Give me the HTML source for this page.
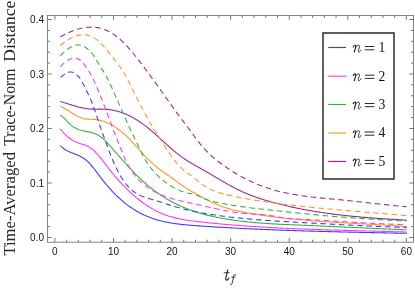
<!DOCTYPE html>
<html><head><meta charset="utf-8"><style>
html,body{margin:0;padding:0;background:#fff;}
svg{display:block;}
text{font-family:"Liberation Sans",sans-serif;}
</style></head><body>
<svg width="415" height="288" viewBox="0 0 415 288">
<rect width="415" height="288" fill="#fff"/>
<g opacity="0.999">
<g fill="none" stroke-width="1.08" stroke-linejoin="round">
<path d="M60.3 145.54 L61.3 146.55 L62.3 147.46 L63.3 148.28 L64.3 149.03 L65.3 149.70 L66.3 150.31 L67.3 150.86 L68.3 151.36 L69.3 151.82 L70.3 152.25 L71.3 152.66 L72.3 153.04 L73.3 153.42 L74.3 153.80 L75.3 154.18 L76.3 154.57 L77.3 154.98 L78.3 155.42 L79.3 155.88 L80.3 156.37 L81.3 156.91 L82.3 157.48 L83.3 158.11 L84.3 158.79 L85.3 159.53 L86.3 160.33 L87.3 161.20 L88.3 162.14 L89.3 163.15 L90.3 164.23 L91.3 165.36 L92.3 166.54 L93.3 167.76 L94.3 169.02 L95.3 170.32 L96.3 171.64 L97.3 172.98 L98.3 174.33 L99.3 175.67 L100.3 177.00 L101.3 178.30 L102.3 179.59 L103.3 180.85 L104.3 182.09 L105.3 183.31 L106.3 184.51 L107.3 185.69 L108.3 186.85 L109.3 187.98 L110.3 189.09 L111.3 190.19 L112.3 191.26 L113.3 192.31 L114.3 193.34 L115.3 194.35 L116.3 195.34 L117.3 196.31 L118.3 197.26 L119.3 198.19 L120.3 199.10 L121.3 199.98 L122.3 200.85 L123.3 201.70 L124.3 202.52 L125.3 203.33 L126.3 204.11 L127.3 204.88 L128.3 205.63 L129.3 206.35 L130.3 207.06 L131.3 207.75 L132.3 208.42 L133.3 209.08 L134.3 209.71 L135.3 210.33 L136.3 210.93 L137.3 211.51 L138.3 212.07 L139.3 212.62 L140.3 213.15 L141.3 213.67 L142.3 214.17 L143.3 214.65 L144.3 215.12 L145.3 215.58 L146.3 216.01 L147.3 216.44 L148.3 216.85 L149.3 217.24 L150.3 217.62 L151.3 217.99 L152.3 218.35 L153.3 218.69 L154.3 219.02 L155.3 219.34 L156.3 219.64 L157.3 219.94 L158.3 220.22 L159.3 220.49 L160.3 220.76 L161.3 221.01 L162.3 221.25 L163.3 221.48 L164.3 221.70 L165.3 221.92 L166.3 222.12 L167.3 222.32 L168.3 222.51 L169.3 222.69 L170.3 222.86 L171.3 223.03 L172.3 223.19 L173.3 223.34 L174.3 223.49 L175.3 223.63 L176.3 223.77 L177.3 223.90 L178.3 224.02 L179.3 224.15 L180.3 224.26 L181.3 224.37 L182.3 224.48 L183.3 224.59 L184.3 224.69 L185.3 224.79 L186.3 224.88 L187.3 224.97 L188.3 225.06 L189.3 225.15 L190.3 225.23 L191.3 225.31 L192.3 225.39 L193.3 225.47 L194.3 225.55 L195.3 225.62 L196.3 225.69 L197.3 225.77 L198.3 225.84 L199.3 225.91 L200.3 225.98 L201.3 226.05 L202.3 226.12 L203.3 226.18 L204.3 226.25 L205.3 226.32 L206.3 226.39 L207.3 226.45 L208.3 226.52 L209.3 226.58 L210.3 226.65 L211.3 226.71 L212.3 226.78 L213.3 226.84 L214.3 226.90 L215.3 226.97 L216.3 227.03 L217.3 227.09 L218.3 227.15 L219.3 227.21 L220.3 227.27 L221.3 227.33 L222.3 227.39 L223.3 227.45 L224.3 227.51 L225.3 227.56 L226.3 227.62 L227.3 227.68 L228.3 227.73 L229.3 227.79 L230.3 227.84 L231.3 227.90 L232.3 227.95 L233.3 228.01 L234.3 228.06 L235.3 228.12 L236.3 228.17 L237.3 228.22 L238.3 228.27 L239.3 228.32 L240.3 228.38 L241.3 228.43 L242.3 228.48 L243.3 228.53 L244.3 228.58 L245.3 228.63 L246.3 228.67 L247.3 228.72 L248.3 228.77 L249.3 228.82 L250.3 228.87 L251.3 228.91 L252.3 228.96 L253.3 229.01 L254.3 229.05 L255.3 229.10 L256.3 229.14 L257.3 229.19 L258.3 229.23 L259.3 229.27 L260.3 229.32 L261.3 229.36 L262.3 229.40 L263.3 229.45 L264.3 229.49 L265.3 229.53 L266.3 229.57 L267.3 229.61 L268.3 229.65 L269.3 229.69 L270.3 229.73 L271.3 229.77 L272.3 229.81 L273.3 229.85 L274.3 229.89 L275.3 229.93 L276.3 229.97 L277.3 230.01 L278.3 230.04 L279.3 230.08 L280.3 230.12 L281.3 230.16 L282.3 230.19 L283.3 230.23 L284.3 230.26 L285.3 230.30 L286.3 230.34 L287.3 230.37 L288.3 230.40 L289.3 230.44 L290.3 230.47 L291.3 230.51 L292.3 230.54 L293.3 230.57 L294.3 230.61 L295.3 230.64 L296.3 230.67 L297.3 230.71 L298.3 230.74 L299.3 230.77 L300.3 230.80 L301.3 230.83 L302.3 230.86 L303.3 230.89 L304.3 230.93 L305.3 230.96 L306.3 230.99 L307.3 231.02 L308.3 231.05 L309.3 231.08 L310.3 231.10 L311.3 231.13 L312.3 231.16 L313.3 231.19 L314.3 231.22 L315.3 231.25 L316.3 231.28 L317.3 231.30 L318.3 231.33 L319.3 231.36 L320.3 231.39 L321.3 231.41 L322.3 231.44 L323.3 231.47 L324.3 231.49 L325.3 231.52 L326.3 231.55 L327.3 231.57 L328.3 231.60 L329.3 231.63 L330.3 231.65 L331.3 231.68 L332.3 231.70 L333.3 231.73 L334.3 231.75 L335.3 231.78 L336.3 231.80 L337.3 231.83 L338.3 231.85 L339.3 231.87 L340.3 231.90 L341.3 231.92 L342.3 231.95 L343.3 231.97 L344.3 231.99 L345.3 232.02 L346.3 232.04 L347.3 232.06 L348.3 232.09 L349.3 232.11 L350.3 232.13 L351.3 232.16 L352.3 232.18 L353.3 232.20 L354.3 232.23 L355.3 232.25 L356.3 232.27 L357.3 232.29 L358.3 232.32 L359.3 232.34 L360.3 232.36 L361.3 232.38 L362.3 232.40 L363.3 232.43 L364.3 232.45 L365.3 232.47 L366.3 232.49 L367.3 232.51 L368.3 232.53 L369.3 232.56 L370.3 232.58 L371.3 232.60 L372.3 232.62 L373.3 232.64 L374.3 232.66 L375.3 232.68 L376.3 232.71 L377.3 232.73 L378.3 232.75 L379.3 232.77 L380.3 232.79 L381.3 232.81 L382.3 232.83 L383.3 232.85 L384.3 232.88 L385.3 232.90 L386.3 232.92 L387.3 232.94 L388.3 232.96 L389.3 232.98 L390.3 233.00 L391.3 233.02 L392.3 233.05 L393.3 233.07 L394.3 233.09 L395.3 233.11 L396.3 233.13 L397.3 233.15 L398.3 233.17 L399.3 233.19 L400.3 233.22 L401.3 233.24 L402.3 233.26 L403.3 233.28 L404.3 233.30 L405.3 233.32 L406.3 233.35 L406.7 233.35" stroke="#3a3aff"/>
<path d="M60.3 128.88 L61.3 130.13 L62.3 131.32 L63.3 132.45 L64.3 133.52 L65.3 134.54 L66.3 135.49 L67.3 136.39 L68.3 137.24 L69.3 138.03 L70.3 138.78 L71.3 139.47 L72.3 140.11 L73.3 140.70 L74.3 141.25 L75.3 141.75 L76.3 142.20 L77.3 142.61 L78.3 142.99 L79.3 143.33 L80.3 143.65 L81.3 143.96 L82.3 144.27 L83.3 144.58 L84.3 144.91 L85.3 145.26 L86.3 145.65 L87.3 146.08 L88.3 146.57 L89.3 147.11 L90.3 147.73 L91.3 148.42 L92.3 149.20 L93.3 150.05 L94.3 150.98 L95.3 151.96 L96.3 153.01 L97.3 154.11 L98.3 155.26 L99.3 156.45 L100.3 157.67 L101.3 158.93 L102.3 160.20 L103.3 161.50 L104.3 162.81 L105.3 164.12 L106.3 165.43 L107.3 166.74 L108.3 168.04 L109.3 169.32 L110.3 170.58 L111.3 171.82 L112.3 173.05 L113.3 174.26 L114.3 175.46 L115.3 176.63 L116.3 177.79 L117.3 178.94 L118.3 180.06 L119.3 181.17 L120.3 182.27 L121.3 183.34 L122.3 184.40 L123.3 185.45 L124.3 186.48 L125.3 187.49 L126.3 188.49 L127.3 189.47 L128.3 190.43 L129.3 191.38 L130.3 192.31 L131.3 193.23 L132.3 194.13 L133.3 195.02 L134.3 195.89 L135.3 196.74 L136.3 197.58 L137.3 198.41 L138.3 199.21 L139.3 200.00 L140.3 200.78 L141.3 201.54 L142.3 202.28 L143.3 203.01 L144.3 203.72 L145.3 204.41 L146.3 205.09 L147.3 205.75 L148.3 206.40 L149.3 207.03 L150.3 207.64 L151.3 208.23 L152.3 208.81 L153.3 209.38 L154.3 209.92 L155.3 210.45 L156.3 210.97 L157.3 211.46 L158.3 211.94 L159.3 212.40 L160.3 212.85 L161.3 213.28 L162.3 213.70 L163.3 214.10 L164.3 214.49 L165.3 214.86 L166.3 215.22 L167.3 215.56 L168.3 215.90 L169.3 216.21 L170.3 216.52 L171.3 216.82 L172.3 217.10 L173.3 217.37 L174.3 217.63 L175.3 217.89 L176.3 218.13 L177.3 218.36 L178.3 218.58 L179.3 218.79 L180.3 219.00 L181.3 219.19 L182.3 219.38 L183.3 219.56 L184.3 219.74 L185.3 219.91 L186.3 220.07 L187.3 220.22 L188.3 220.37 L189.3 220.52 L190.3 220.66 L191.3 220.79 L192.3 220.92 L193.3 221.05 L194.3 221.18 L195.3 221.30 L196.3 221.42 L197.3 221.53 L198.3 221.65 L199.3 221.76 L200.3 221.88 L201.3 221.99 L202.3 222.10 L203.3 222.21 L204.3 222.32 L205.3 222.42 L206.3 222.53 L207.3 222.64 L208.3 222.74 L209.3 222.84 L210.3 222.95 L211.3 223.05 L212.3 223.15 L213.3 223.25 L214.3 223.35 L215.3 223.44 L216.3 223.54 L217.3 223.64 L218.3 223.73 L219.3 223.83 L220.3 223.92 L221.3 224.01 L222.3 224.10 L223.3 224.19 L224.3 224.28 L225.3 224.37 L226.3 224.46 L227.3 224.54 L228.3 224.63 L229.3 224.72 L230.3 224.80 L231.3 224.88 L232.3 224.97 L233.3 225.05 L234.3 225.13 L235.3 225.21 L236.3 225.29 L237.3 225.37 L238.3 225.44 L239.3 225.52 L240.3 225.60 L241.3 225.67 L242.3 225.74 L243.3 225.82 L244.3 225.89 L245.3 225.96 L246.3 226.03 L247.3 226.10 L248.3 226.17 L249.3 226.24 L250.3 226.31 L251.3 226.38 L252.3 226.45 L253.3 226.51 L254.3 226.58 L255.3 226.64 L256.3 226.71 L257.3 226.77 L258.3 226.83 L259.3 226.89 L260.3 226.95 L261.3 227.01 L262.3 227.07 L263.3 227.13 L264.3 227.19 L265.3 227.25 L266.3 227.31 L267.3 227.36 L268.3 227.42 L269.3 227.48 L270.3 227.53 L271.3 227.59 L272.3 227.64 L273.3 227.69 L274.3 227.74 L275.3 227.80 L276.3 227.85 L277.3 227.90 L278.3 227.95 L279.3 228.00 L280.3 228.05 L281.3 228.10 L282.3 228.14 L283.3 228.19 L284.3 228.24 L285.3 228.28 L286.3 228.33 L287.3 228.38 L288.3 228.42 L289.3 228.47 L290.3 228.51 L291.3 228.55 L292.3 228.60 L293.3 228.64 L294.3 228.68 L295.3 228.72 L296.3 228.76 L297.3 228.80 L298.3 228.85 L299.3 228.88 L300.3 228.92 L301.3 228.96 L302.3 229.00 L303.3 229.04 L304.3 229.08 L305.3 229.12 L306.3 229.15 L307.3 229.19 L308.3 229.23 L309.3 229.26 L310.3 229.30 L311.3 229.33 L312.3 229.37 L313.3 229.40 L314.3 229.44 L315.3 229.47 L316.3 229.51 L317.3 229.54 L318.3 229.57 L319.3 229.60 L320.3 229.64 L321.3 229.67 L322.3 229.70 L323.3 229.73 L324.3 229.76 L325.3 229.79 L326.3 229.83 L327.3 229.86 L328.3 229.89 L329.3 229.92 L330.3 229.95 L331.3 229.98 L332.3 230.01 L333.3 230.04 L334.3 230.06 L335.3 230.09 L336.3 230.12 L337.3 230.15 L338.3 230.18 L339.3 230.21 L340.3 230.23 L341.3 230.26 L342.3 230.29 L343.3 230.32 L344.3 230.34 L345.3 230.37 L346.3 230.40 L347.3 230.43 L348.3 230.45 L349.3 230.48 L350.3 230.51 L351.3 230.53 L352.3 230.56 L353.3 230.59 L354.3 230.61 L355.3 230.64 L356.3 230.66 L357.3 230.69 L358.3 230.72 L359.3 230.74 L360.3 230.77 L361.3 230.79 L362.3 230.82 L363.3 230.85 L364.3 230.87 L365.3 230.90 L366.3 230.92 L367.3 230.95 L368.3 230.97 L369.3 231.00 L370.3 231.03 L371.3 231.05 L372.3 231.08 L373.3 231.10 L374.3 231.13 L375.3 231.16 L376.3 231.18 L377.3 231.21 L378.3 231.24 L379.3 231.26 L380.3 231.29 L381.3 231.31 L382.3 231.34 L383.3 231.37 L384.3 231.40 L385.3 231.42 L386.3 231.45 L387.3 231.48 L388.3 231.50 L389.3 231.53 L390.3 231.56 L391.3 231.59 L392.3 231.62 L393.3 231.64 L394.3 231.67 L395.3 231.70 L396.3 231.73 L397.3 231.76 L398.3 231.79 L399.3 231.82 L400.3 231.85 L401.3 231.88 L402.3 231.91 L403.3 231.94 L404.3 231.97 L405.3 232.00 L406.3 232.03 L406.7 232.04" stroke="#ff34ff"/>
<path d="M60.3 114.99 L61.3 115.72 L62.3 116.55 L63.3 117.46 L64.3 118.42 L65.3 119.43 L66.3 120.46 L67.3 121.50 L68.3 122.53 L69.3 123.53 L70.3 124.47 L71.3 125.36 L72.3 126.16 L73.3 126.87 L74.3 127.51 L75.3 128.07 L76.3 128.57 L77.3 129.01 L78.3 129.40 L79.3 129.75 L80.3 130.06 L81.3 130.33 L82.3 130.58 L83.3 130.81 L84.3 131.03 L85.3 131.24 L86.3 131.44 L87.3 131.65 L88.3 131.85 L89.3 132.07 L90.3 132.31 L91.3 132.56 L92.3 132.84 L93.3 133.15 L94.3 133.49 L95.3 133.87 L96.3 134.30 L97.3 134.77 L98.3 135.30 L99.3 135.89 L100.3 136.54 L101.3 137.27 L102.3 138.06 L103.3 138.92 L104.3 139.84 L105.3 140.81 L106.3 141.82 L107.3 142.88 L108.3 143.96 L109.3 145.07 L110.3 146.19 L111.3 147.33 L112.3 148.47 L113.3 149.61 L114.3 150.75 L115.3 151.89 L116.3 153.03 L117.3 154.17 L118.3 155.30 L119.3 156.44 L120.3 157.57 L121.3 158.69 L122.3 159.82 L123.3 160.94 L124.3 162.05 L125.3 163.16 L126.3 164.26 L127.3 165.36 L128.3 166.45 L129.3 167.53 L130.3 168.60 L131.3 169.67 L132.3 170.72 L133.3 171.77 L134.3 172.80 L135.3 173.82 L136.3 174.83 L137.3 175.83 L138.3 176.81 L139.3 177.78 L140.3 178.73 L141.3 179.67 L142.3 180.60 L143.3 181.51 L144.3 182.40 L145.3 183.28 L146.3 184.15 L147.3 185.00 L148.3 185.84 L149.3 186.66 L150.3 187.47 L151.3 188.26 L152.3 189.04 L153.3 189.81 L154.3 190.57 L155.3 191.31 L156.3 192.03 L157.3 192.75 L158.3 193.45 L159.3 194.14 L160.3 194.81 L161.3 195.48 L162.3 196.13 L163.3 196.77 L164.3 197.39 L165.3 198.01 L166.3 198.61 L167.3 199.21 L168.3 199.79 L169.3 200.36 L170.3 200.92 L171.3 201.46 L172.3 202.00 L173.3 202.53 L174.3 203.04 L175.3 203.55 L176.3 204.04 L177.3 204.53 L178.3 205.00 L179.3 205.47 L180.3 205.92 L181.3 206.37 L182.3 206.81 L183.3 207.23 L184.3 207.65 L185.3 208.06 L186.3 208.46 L187.3 208.86 L188.3 209.24 L189.3 209.62 L190.3 209.99 L191.3 210.34 L192.3 210.70 L193.3 211.04 L194.3 211.38 L195.3 211.71 L196.3 212.03 L197.3 212.34 L198.3 212.65 L199.3 212.95 L200.3 213.25 L201.3 213.54 L202.3 213.82 L203.3 214.09 L204.3 214.36 L205.3 214.63 L206.3 214.89 L207.3 215.14 L208.3 215.39 L209.3 215.63 L210.3 215.86 L211.3 216.09 L212.3 216.32 L213.3 216.54 L214.3 216.76 L215.3 216.97 L216.3 217.18 L217.3 217.39 L218.3 217.59 L219.3 217.78 L220.3 217.98 L221.3 218.16 L222.3 218.35 L223.3 218.53 L224.3 218.71 L225.3 218.88 L226.3 219.05 L227.3 219.22 L228.3 219.38 L229.3 219.54 L230.3 219.70 L231.3 219.85 L232.3 220.00 L233.3 220.14 L234.3 220.29 L235.3 220.43 L236.3 220.56 L237.3 220.70 L238.3 220.83 L239.3 220.96 L240.3 221.08 L241.3 221.20 L242.3 221.32 L243.3 221.44 L244.3 221.55 L245.3 221.66 L246.3 221.77 L247.3 221.88 L248.3 221.98 L249.3 222.08 L250.3 222.18 L251.3 222.28 L252.3 222.37 L253.3 222.46 L254.3 222.55 L255.3 222.64 L256.3 222.72 L257.3 222.81 L258.3 222.89 L259.3 222.97 L260.3 223.04 L261.3 223.12 L262.3 223.19 L263.3 223.26 L264.3 223.33 L265.3 223.40 L266.3 223.47 L267.3 223.53 L268.3 223.60 L269.3 223.66 L270.3 223.72 L271.3 223.78 L272.3 223.84 L273.3 223.89 L274.3 223.95 L275.3 224.00 L276.3 224.06 L277.3 224.11 L278.3 224.16 L279.3 224.21 L280.3 224.26 L281.3 224.31 L282.3 224.36 L283.3 224.40 L284.3 224.45 L285.3 224.49 L286.3 224.54 L287.3 224.58 L288.3 224.63 L289.3 224.67 L290.3 224.71 L291.3 224.76 L292.3 224.80 L293.3 224.84 L294.3 224.88 L295.3 224.92 L296.3 224.97 L297.3 225.01 L298.3 225.05 L299.3 225.09 L300.3 225.13 L301.3 225.17 L302.3 225.21 L303.3 225.26 L304.3 225.30 L305.3 225.34 L306.3 225.38 L307.3 225.43 L308.3 225.47 L309.3 225.51 L310.3 225.56 L311.3 225.60 L312.3 225.64 L313.3 225.69 L314.3 225.73 L315.3 225.77 L316.3 225.82 L317.3 225.86 L318.3 225.91 L319.3 225.95 L320.3 226.00 L321.3 226.04 L322.3 226.09 L323.3 226.13 L324.3 226.18 L325.3 226.22 L326.3 226.27 L327.3 226.31 L328.3 226.36 L329.3 226.40 L330.3 226.45 L331.3 226.50 L332.3 226.54 L333.3 226.59 L334.3 226.63 L335.3 226.68 L336.3 226.73 L337.3 226.77 L338.3 226.82 L339.3 226.86 L340.3 226.91 L341.3 226.96 L342.3 227.00 L343.3 227.05 L344.3 227.09 L345.3 227.14 L346.3 227.19 L347.3 227.23 L348.3 227.28 L349.3 227.33 L350.3 227.37 L351.3 227.42 L352.3 227.46 L353.3 227.51 L354.3 227.56 L355.3 227.60 L356.3 227.65 L357.3 227.69 L358.3 227.74 L359.3 227.79 L360.3 227.83 L361.3 227.88 L362.3 227.92 L363.3 227.97 L364.3 228.01 L365.3 228.06 L366.3 228.10 L367.3 228.15 L368.3 228.19 L369.3 228.24 L370.3 228.28 L371.3 228.33 L372.3 228.37 L373.3 228.42 L374.3 228.46 L375.3 228.51 L376.3 228.55 L377.3 228.59 L378.3 228.64 L379.3 228.68 L380.3 228.73 L381.3 228.77 L382.3 228.81 L383.3 228.85 L384.3 228.90 L385.3 228.94 L386.3 228.98 L387.3 229.02 L388.3 229.07 L389.3 229.11 L390.3 229.15 L391.3 229.19 L392.3 229.23 L393.3 229.27 L394.3 229.31 L395.3 229.35 L396.3 229.39 L397.3 229.43 L398.3 229.47 L399.3 229.51 L400.3 229.55 L401.3 229.59 L402.3 229.63 L403.3 229.67 L404.3 229.71 L405.3 229.74 L406.3 229.78 L406.7 229.80" stroke="#30b530"/>
<path d="M60.3 106.20 L61.3 106.66 L62.3 107.15 L63.3 107.68 L64.3 108.24 L65.3 108.82 L66.3 109.42 L67.3 110.03 L68.3 110.66 L69.3 111.29 L70.3 111.93 L71.3 112.57 L72.3 113.19 L73.3 113.81 L74.3 114.42 L75.3 115.00 L76.3 115.57 L77.3 116.10 L78.3 116.60 L79.3 117.07 L80.3 117.49 L81.3 117.87 L82.3 118.20 L83.3 118.47 L84.3 118.69 L85.3 118.86 L86.3 118.99 L87.3 119.09 L88.3 119.16 L89.3 119.20 L90.3 119.24 L91.3 119.27 L92.3 119.31 L93.3 119.35 L94.3 119.41 L95.3 119.49 L96.3 119.61 L97.3 119.75 L98.3 119.93 L99.3 120.14 L100.3 120.38 L101.3 120.64 L102.3 120.94 L103.3 121.26 L104.3 121.61 L105.3 121.98 L106.3 122.38 L107.3 122.81 L108.3 123.26 L109.3 123.74 L110.3 124.25 L111.3 124.78 L112.3 125.33 L113.3 125.92 L114.3 126.53 L115.3 127.16 L116.3 127.83 L117.3 128.52 L118.3 129.24 L119.3 129.98 L120.3 130.76 L121.3 131.56 L122.3 132.38 L123.3 133.24 L124.3 134.13 L125.3 135.04 L126.3 135.98 L127.3 136.95 L128.3 137.94 L129.3 138.95 L130.3 139.98 L131.3 141.03 L132.3 142.10 L133.3 143.18 L134.3 144.26 L135.3 145.36 L136.3 146.47 L137.3 147.57 L138.3 148.69 L139.3 149.80 L140.3 150.91 L141.3 152.01 L142.3 153.11 L143.3 154.20 L144.3 155.28 L145.3 156.35 L146.3 157.40 L147.3 158.43 L148.3 159.45 L149.3 160.44 L150.3 161.41 L151.3 162.36 L152.3 163.28 L153.3 164.17 L154.3 165.03 L155.3 165.88 L156.3 166.70 L157.3 167.50 L158.3 168.29 L159.3 169.06 L160.3 169.81 L161.3 170.55 L162.3 171.28 L163.3 171.99 L164.3 172.70 L165.3 173.41 L166.3 174.10 L167.3 174.80 L168.3 175.49 L169.3 176.18 L170.3 176.87 L171.3 177.56 L172.3 178.26 L173.3 178.97 L174.3 179.68 L175.3 180.40 L176.3 181.13 L177.3 181.86 L178.3 182.59 L179.3 183.32 L180.3 184.05 L181.3 184.77 L182.3 185.49 L183.3 186.20 L184.3 186.89 L185.3 187.58 L186.3 188.24 L187.3 188.89 L188.3 189.52 L189.3 190.13 L190.3 190.73 L191.3 191.31 L192.3 191.88 L193.3 192.44 L194.3 193.00 L195.3 193.54 L196.3 194.08 L197.3 194.62 L198.3 195.16 L199.3 195.69 L200.3 196.23 L201.3 196.76 L202.3 197.30 L203.3 197.83 L204.3 198.37 L205.3 198.90 L206.3 199.42 L207.3 199.94 L208.3 200.46 L209.3 200.97 L210.3 201.47 L211.3 201.96 L212.3 202.45 L213.3 202.92 L214.3 203.38 L215.3 203.84 L216.3 204.28 L217.3 204.71 L218.3 205.12 L219.3 205.52 L220.3 205.91 L221.3 206.28 L222.3 206.65 L223.3 207.00 L224.3 207.34 L225.3 207.67 L226.3 207.99 L227.3 208.30 L228.3 208.59 L229.3 208.88 L230.3 209.16 L231.3 209.43 L232.3 209.70 L233.3 209.95 L234.3 210.20 L235.3 210.44 L236.3 210.67 L237.3 210.90 L238.3 211.12 L239.3 211.33 L240.3 211.54 L241.3 211.74 L242.3 211.94 L243.3 212.13 L244.3 212.32 L245.3 212.51 L246.3 212.69 L247.3 212.87 L248.3 213.05 L249.3 213.23 L250.3 213.40 L251.3 213.57 L252.3 213.74 L253.3 213.91 L254.3 214.07 L255.3 214.24 L256.3 214.40 L257.3 214.55 L258.3 214.71 L259.3 214.87 L260.3 215.02 L261.3 215.17 L262.3 215.32 L263.3 215.47 L264.3 215.61 L265.3 215.75 L266.3 215.89 L267.3 216.03 L268.3 216.17 L269.3 216.31 L270.3 216.44 L271.3 216.57 L272.3 216.70 L273.3 216.83 L274.3 216.96 L275.3 217.09 L276.3 217.21 L277.3 217.33 L278.3 217.45 L279.3 217.57 L280.3 217.69 L281.3 217.81 L282.3 217.92 L283.3 218.03 L284.3 218.14 L285.3 218.25 L286.3 218.36 L287.3 218.47 L288.3 218.57 L289.3 218.68 L290.3 218.78 L291.3 218.88 L292.3 218.98 L293.3 219.08 L294.3 219.18 L295.3 219.28 L296.3 219.37 L297.3 219.46 L298.3 219.56 L299.3 219.65 L300.3 219.74 L301.3 219.83 L302.3 219.91 L303.3 220.00 L304.3 220.09 L305.3 220.17 L306.3 220.25 L307.3 220.34 L308.3 220.42 L309.3 220.50 L310.3 220.58 L311.3 220.66 L312.3 220.73 L313.3 220.81 L314.3 220.89 L315.3 220.96 L316.3 221.03 L317.3 221.11 L318.3 221.18 L319.3 221.25 L320.3 221.32 L321.3 221.39 L322.3 221.46 L323.3 221.53 L324.3 221.60 L325.3 221.66 L326.3 221.73 L327.3 221.80 L328.3 221.86 L329.3 221.93 L330.3 221.99 L331.3 222.05 L332.3 222.12 L333.3 222.18 L334.3 222.24 L335.3 222.30 L336.3 222.36 L337.3 222.42 L338.3 222.48 L339.3 222.54 L340.3 222.60 L341.3 222.66 L342.3 222.72 L343.3 222.78 L344.3 222.84 L345.3 222.89 L346.3 222.95 L347.3 223.01 L348.3 223.06 L349.3 223.12 L350.3 223.18 L351.3 223.23 L352.3 223.29 L353.3 223.35 L354.3 223.40 L355.3 223.46 L356.3 223.51 L357.3 223.57 L358.3 223.62 L359.3 223.68 L360.3 223.74 L361.3 223.79 L362.3 223.85 L363.3 223.90 L364.3 223.96 L365.3 224.02 L366.3 224.07 L367.3 224.13 L368.3 224.18 L369.3 224.24 L370.3 224.30 L371.3 224.35 L372.3 224.41 L373.3 224.47 L374.3 224.53 L375.3 224.59 L376.3 224.64 L377.3 224.70 L378.3 224.76 L379.3 224.82 L380.3 224.88 L381.3 224.94 L382.3 225.00 L383.3 225.06 L384.3 225.13 L385.3 225.19 L386.3 225.25 L387.3 225.32 L388.3 225.38 L389.3 225.44 L390.3 225.51 L391.3 225.57 L392.3 225.64 L393.3 225.71 L394.3 225.78 L395.3 225.84 L396.3 225.91 L397.3 225.98 L398.3 226.05 L399.3 226.13 L400.3 226.20 L401.3 226.27 L402.3 226.35 L403.3 226.42 L404.3 226.50 L405.3 226.57 L406.3 226.65 L406.7 226.68" stroke="#ff9326"/>
<path d="M60.3 101.51 L61.3 101.80 L62.3 102.10 L63.3 102.40 L64.3 102.70 L65.3 103.02 L66.3 103.33 L67.3 103.64 L68.3 103.96 L69.3 104.27 L70.3 104.58 L71.3 104.89 L72.3 105.20 L73.3 105.50 L74.3 105.80 L75.3 106.09 L76.3 106.37 L77.3 106.65 L78.3 106.91 L79.3 107.17 L80.3 107.41 L81.3 107.65 L82.3 107.86 L83.3 108.07 L84.3 108.26 L85.3 108.43 L86.3 108.59 L87.3 108.73 L88.3 108.85 L89.3 108.95 L90.3 109.03 L91.3 109.09 L92.3 109.13 L93.3 109.16 L94.3 109.17 L95.3 109.18 L96.3 109.17 L97.3 109.17 L98.3 109.16 L99.3 109.15 L100.3 109.15 L101.3 109.15 L102.3 109.16 L103.3 109.18 L104.3 109.22 L105.3 109.27 L106.3 109.34 L107.3 109.43 L108.3 109.53 L109.3 109.65 L110.3 109.78 L111.3 109.93 L112.3 110.10 L113.3 110.29 L114.3 110.49 L115.3 110.71 L116.3 110.96 L117.3 111.22 L118.3 111.50 L119.3 111.79 L120.3 112.11 L121.3 112.45 L122.3 112.80 L123.3 113.18 L124.3 113.57 L125.3 113.98 L126.3 114.40 L127.3 114.85 L128.3 115.31 L129.3 115.80 L130.3 116.30 L131.3 116.81 L132.3 117.35 L133.3 117.90 L134.3 118.47 L135.3 119.05 L136.3 119.66 L137.3 120.28 L138.3 120.91 L139.3 121.57 L140.3 122.24 L141.3 122.92 L142.3 123.63 L143.3 124.34 L144.3 125.08 L145.3 125.83 L146.3 126.60 L147.3 127.38 L148.3 128.18 L149.3 128.99 L150.3 129.82 L151.3 130.66 L152.3 131.51 L153.3 132.38 L154.3 133.26 L155.3 134.15 L156.3 135.04 L157.3 135.94 L158.3 136.85 L159.3 137.76 L160.3 138.68 L161.3 139.60 L162.3 140.52 L163.3 141.43 L164.3 142.35 L165.3 143.27 L166.3 144.18 L167.3 145.09 L168.3 145.99 L169.3 146.88 L170.3 147.76 L171.3 148.64 L172.3 149.50 L173.3 150.36 L174.3 151.20 L175.3 152.02 L176.3 152.83 L177.3 153.63 L178.3 154.41 L179.3 155.18 L180.3 155.93 L181.3 156.67 L182.3 157.40 L183.3 158.10 L184.3 158.80 L185.3 159.48 L186.3 160.14 L187.3 160.79 L188.3 161.42 L189.3 162.04 L190.3 162.64 L191.3 163.24 L192.3 163.83 L193.3 164.40 L194.3 164.97 L195.3 165.54 L196.3 166.10 L197.3 166.65 L198.3 167.21 L199.3 167.76 L200.3 168.31 L201.3 168.87 L202.3 169.42 L203.3 169.98 L204.3 170.55 L205.3 171.12 L206.3 171.69 L207.3 172.27 L208.3 172.86 L209.3 173.44 L210.3 174.03 L211.3 174.62 L212.3 175.21 L213.3 175.81 L214.3 176.40 L215.3 177.00 L216.3 177.60 L217.3 178.19 L218.3 178.79 L219.3 179.38 L220.3 179.97 L221.3 180.56 L222.3 181.15 L223.3 181.74 L224.3 182.32 L225.3 182.89 L226.3 183.47 L227.3 184.03 L228.3 184.60 L229.3 185.15 L230.3 185.71 L231.3 186.25 L232.3 186.79 L233.3 187.32 L234.3 187.84 L235.3 188.35 L236.3 188.86 L237.3 189.35 L238.3 189.84 L239.3 190.32 L240.3 190.79 L241.3 191.25 L242.3 191.70 L243.3 192.15 L244.3 192.59 L245.3 193.02 L246.3 193.44 L247.3 193.85 L248.3 194.26 L249.3 194.66 L250.3 195.05 L251.3 195.44 L252.3 195.82 L253.3 196.19 L254.3 196.56 L255.3 196.92 L256.3 197.27 L257.3 197.62 L258.3 197.96 L259.3 198.30 L260.3 198.63 L261.3 198.96 L262.3 199.28 L263.3 199.59 L264.3 199.91 L265.3 200.21 L266.3 200.51 L267.3 200.81 L268.3 201.10 L269.3 201.39 L270.3 201.67 L271.3 201.95 L272.3 202.23 L273.3 202.50 L274.3 202.77 L275.3 203.04 L276.3 203.30 L277.3 203.56 L278.3 203.82 L279.3 204.08 L280.3 204.33 L281.3 204.58 L282.3 204.82 L283.3 205.07 L284.3 205.31 L285.3 205.54 L286.3 205.78 L287.3 206.01 L288.3 206.24 L289.3 206.47 L290.3 206.69 L291.3 206.91 L292.3 207.13 L293.3 207.35 L294.3 207.56 L295.3 207.77 L296.3 207.98 L297.3 208.19 L298.3 208.39 L299.3 208.59 L300.3 208.79 L301.3 208.99 L302.3 209.18 L303.3 209.37 L304.3 209.56 L305.3 209.75 L306.3 209.93 L307.3 210.11 L308.3 210.29 L309.3 210.47 L310.3 210.65 L311.3 210.82 L312.3 210.99 L313.3 211.16 L314.3 211.32 L315.3 211.49 L316.3 211.65 L317.3 211.81 L318.3 211.97 L319.3 212.12 L320.3 212.28 L321.3 212.43 L322.3 212.58 L323.3 212.73 L324.3 212.87 L325.3 213.02 L326.3 213.16 L327.3 213.30 L328.3 213.44 L329.3 213.58 L330.3 213.71 L331.3 213.84 L332.3 213.97 L333.3 214.10 L334.3 214.23 L335.3 214.36 L336.3 214.48 L337.3 214.60 L338.3 214.72 L339.3 214.84 L340.3 214.96 L341.3 215.08 L342.3 215.19 L343.3 215.30 L344.3 215.42 L345.3 215.53 L346.3 215.63 L347.3 215.74 L348.3 215.85 L349.3 215.95 L350.3 216.05 L351.3 216.15 L352.3 216.25 L353.3 216.35 L354.3 216.45 L355.3 216.54 L356.3 216.64 L357.3 216.73 L358.3 216.82 L359.3 216.91 L360.3 217.00 L361.3 217.09 L362.3 217.18 L363.3 217.26 L364.3 217.35 L365.3 217.43 L366.3 217.52 L367.3 217.60 L368.3 217.68 L369.3 217.76 L370.3 217.84 L371.3 217.91 L372.3 217.99 L373.3 218.06 L374.3 218.14 L375.3 218.21 L376.3 218.29 L377.3 218.36 L378.3 218.43 L379.3 218.50 L380.3 218.57 L381.3 218.64 L382.3 218.71 L383.3 218.77 L384.3 218.84 L385.3 218.91 L386.3 218.97 L387.3 219.04 L388.3 219.10 L389.3 219.16 L390.3 219.23 L391.3 219.29 L392.3 219.35 L393.3 219.41 L394.3 219.47 L395.3 219.53 L396.3 219.59 L397.3 219.65 L398.3 219.71 L399.3 219.77 L400.3 219.83 L401.3 219.88 L402.3 219.94 L403.3 220.00 L404.3 220.06 L405.3 220.11 L406.3 220.17 L406.7 220.19" stroke="#952895"/>
<path d="M60.3 77.23 L61.3 76.66 L62.3 76.01 L63.3 75.34 L64.3 74.65 L65.3 73.98 L66.3 73.37 L67.3 72.82 L68.3 72.39 L69.3 72.08 L70.3 71.93 L71.3 71.97 L72.3 72.21 L73.3 72.61 L74.3 73.16 L75.3 73.80 L76.3 74.53 L77.3 75.32 L78.3 76.24 L79.3 77.39 L80.3 78.85 L81.3 80.62 L82.3 82.46 L83.3 84.23 L84.3 86.06 L85.3 88.07 L86.3 90.21 L87.3 92.29 L88.3 94.32 L89.3 96.40 L90.3 98.59 L91.3 100.95 L92.3 103.45 L93.3 106.08 L94.3 108.82 L95.3 111.66 L96.3 114.58 L97.3 117.56 L98.3 120.59 L99.3 123.63 L100.3 126.66 L101.3 129.63 L102.3 132.50 L103.3 135.26 L104.3 137.91 L105.3 140.54 L106.3 143.19 L107.3 145.92 L108.3 148.78 L109.3 151.57 L110.3 154.18 L111.3 156.68 L112.3 159.11 L113.3 161.45 L114.3 163.71 L115.3 165.89 L116.3 168.00 L117.3 170.01 L118.3 171.95 L119.3 173.80 L120.3 175.57 L121.3 177.25 L122.3 178.84 L123.3 180.35 L124.3 181.78 L125.3 183.12 L126.3 184.38 L127.3 185.56 L128.3 186.67 L129.3 187.71 L130.3 188.69 L131.3 189.60 L132.3 190.45 L133.3 191.24 L134.3 191.97 L135.3 192.66 L136.3 193.30 L137.3 193.89 L138.3 194.44 L139.3 194.96 L140.3 195.43 L141.3 195.88 L142.3 196.30 L143.3 196.69 L144.3 197.06 L145.3 197.40 L146.3 197.74 L147.3 198.06 L148.3 198.37 L149.3 198.67 L150.3 198.97 L151.3 199.27 L152.3 199.57 L153.3 199.87 L154.3 200.18 L155.3 200.49 L156.3 200.79 L157.3 201.11 L158.3 201.42 L159.3 201.73 L160.3 202.04 L161.3 202.36 L162.3 202.67 L163.3 202.99 L164.3 203.30 L165.3 203.61 L166.3 203.93 L167.3 204.24 L168.3 204.55 L169.3 204.86 L170.3 205.17 L171.3 205.48 L172.3 205.78 L173.3 206.08 L174.3 206.38 L175.3 206.68 L176.3 206.97 L177.3 207.26 L178.3 207.55 L179.3 207.83 L180.3 208.11 L181.3 208.39 L182.3 208.66 L183.3 208.92 L184.3 209.18 L185.3 209.44 L186.3 209.69 L187.3 209.94 L188.3 210.18 L189.3 210.41 L190.3 210.64 L191.3 210.86 L192.3 211.07 L193.3 211.29 L194.3 211.49 L195.3 211.69 L196.3 211.89 L197.3 212.08 L198.3 212.27 L199.3 212.46 L200.3 212.64 L201.3 212.82 L202.3 213.00 L203.3 213.17 L204.3 213.34 L205.3 213.51 L206.3 213.68 L207.3 213.84 L208.3 214.01 L209.3 214.17 L210.3 214.32 L211.3 214.48 L212.3 214.63 L213.3 214.78 L214.3 214.93 L215.3 215.08 L216.3 215.23 L217.3 215.37 L218.3 215.51 L219.3 215.65 L220.3 215.79 L221.3 215.92 L222.3 216.05 L223.3 216.19 L224.3 216.32 L225.3 216.44 L226.3 216.57 L227.3 216.69 L228.3 216.81 L229.3 216.93 L230.3 217.05 L231.3 217.17 L232.3 217.28 L233.3 217.40 L234.3 217.51 L235.3 217.62 L236.3 217.73 L237.3 217.84 L238.3 217.94 L239.3 218.04 L240.3 218.15 L241.3 218.25 L242.3 218.35 L243.3 218.44 L244.3 218.54 L245.3 218.64 L246.3 218.73 L247.3 218.82 L248.3 218.91 L249.3 219.00 L250.3 219.09 L251.3 219.18 L252.3 219.27 L253.3 219.35 L254.3 219.43 L255.3 219.52 L256.3 219.60 L257.3 219.68 L258.3 219.76 L259.3 219.84 L260.3 219.91 L261.3 219.99 L262.3 220.07 L263.3 220.14 L264.3 220.21 L265.3 220.29 L266.3 220.36 L267.3 220.43 L268.3 220.50 L269.3 220.57 L270.3 220.63 L271.3 220.70 L272.3 220.77 L273.3 220.84 L274.3 220.90 L275.3 220.97 L276.3 221.03 L277.3 221.09 L278.3 221.16 L279.3 221.22 L280.3 221.28 L281.3 221.34 L282.3 221.40 L283.3 221.46 L284.3 221.52 L285.3 221.58 L286.3 221.64 L287.3 221.70 L288.3 221.76 L289.3 221.82 L290.3 221.87 L291.3 221.93 L292.3 221.99 L293.3 222.04 L294.3 222.10 L295.3 222.16 L296.3 222.21 L297.3 222.27 L298.3 222.33 L299.3 222.38 L300.3 222.44 L301.3 222.49 L302.3 222.55 L303.3 222.61 L304.3 222.66 L305.3 222.72 L306.3 222.77 L307.3 222.83 L308.3 222.88 L309.3 222.94 L310.3 223.00 L311.3 223.05 L312.3 223.11 L313.3 223.16 L314.3 223.22 L315.3 223.27 L316.3 223.33 L317.3 223.38 L318.3 223.44 L319.3 223.49 L320.3 223.55 L321.3 223.60 L322.3 223.66 L323.3 223.71 L324.3 223.77 L325.3 223.82 L326.3 223.88 L327.3 223.93 L328.3 223.99 L329.3 224.04 L330.3 224.09 L331.3 224.15 L332.3 224.20 L333.3 224.25 L334.3 224.31 L335.3 224.36 L336.3 224.41 L337.3 224.47 L338.3 224.52 L339.3 224.57 L340.3 224.62 L341.3 224.67 L342.3 224.73 L343.3 224.78 L344.3 224.83 L345.3 224.88 L346.3 224.93 L347.3 224.98 L348.3 225.03 L349.3 225.08 L350.3 225.13 L351.3 225.18 L352.3 225.23 L353.3 225.28 L354.3 225.33 L355.3 225.38 L356.3 225.43 L357.3 225.47 L358.3 225.52 L359.3 225.57 L360.3 225.62 L361.3 225.66 L362.3 225.71 L363.3 225.76 L364.3 225.80 L365.3 225.85 L366.3 225.89 L367.3 225.94 L368.3 225.98 L369.3 226.03 L370.3 226.07 L371.3 226.12 L372.3 226.16 L373.3 226.20 L374.3 226.24 L375.3 226.29 L376.3 226.33 L377.3 226.37 L378.3 226.41 L379.3 226.45 L380.3 226.49 L381.3 226.53 L382.3 226.57 L383.3 226.61 L384.3 226.65 L385.3 226.69 L386.3 226.73 L387.3 226.76 L388.3 226.80 L389.3 226.84 L390.3 226.87 L391.3 226.91 L392.3 226.95 L393.3 226.98 L394.3 227.02 L395.3 227.05 L396.3 227.08 L397.3 227.12 L398.3 227.15 L399.3 227.18 L400.3 227.21 L401.3 227.24 L402.3 227.27 L403.3 227.30 L404.3 227.33 L405.3 227.36 L406.3 227.39 L406.7 227.40" stroke="#3a3aff" stroke-dasharray="5.5 3.71"/>
<path d="M60.3 66.71 L61.3 65.70 L62.3 64.73 L63.3 63.79 L64.3 62.90 L65.3 62.07 L66.3 61.29 L67.3 60.58 L68.3 59.94 L69.3 59.37 L70.3 58.90 L71.3 58.51 L72.3 58.22 L73.3 58.03 L74.3 57.96 L75.3 58.00 L76.3 58.17 L77.3 58.47 L78.3 58.90 L79.3 59.48 L80.3 60.20 L81.3 61.08 L82.3 62.11 L83.3 63.28 L84.3 64.55 L85.3 65.93 L86.3 67.38 L87.3 68.90 L88.3 70.45 L89.3 72.04 L90.3 73.68 L91.3 75.39 L92.3 77.23 L93.3 79.21 L94.3 81.37 L95.3 83.69 L96.3 86.12 L97.3 88.48 L98.3 90.70 L99.3 93.01 L100.3 95.50 L101.3 98.05 L102.3 100.59 L103.3 103.14 L104.3 105.70 L105.3 108.27 L106.3 110.86 L107.3 113.47 L108.3 116.12 L109.3 118.79 L110.3 121.53 L111.3 124.35 L112.3 127.29 L113.3 130.11 L114.3 132.52 L115.3 134.78 L116.3 137.22 L117.3 139.84 L118.3 142.44 L119.3 144.98 L120.3 147.45 L121.3 149.92 L122.3 152.39 L123.3 154.83 L124.3 157.19 L125.3 159.45 L126.3 161.58 L127.3 163.59 L128.3 165.48 L129.3 167.26 L130.3 168.94 L131.3 170.52 L132.3 172.00 L133.3 173.40 L134.3 174.72 L135.3 175.96 L136.3 177.14 L137.3 178.25 L138.3 179.31 L139.3 180.32 L140.3 181.28 L141.3 182.21 L142.3 183.11 L143.3 183.97 L144.3 184.80 L145.3 185.60 L146.3 186.37 L147.3 187.11 L148.3 187.83 L149.3 188.51 L150.3 189.17 L151.3 189.80 L152.3 190.41 L153.3 191.00 L154.3 191.56 L155.3 192.09 L156.3 192.61 L157.3 193.11 L158.3 193.58 L159.3 194.04 L160.3 194.48 L161.3 194.90 L162.3 195.31 L163.3 195.70 L164.3 196.07 L165.3 196.44 L166.3 196.79 L167.3 197.12 L168.3 197.45 L169.3 197.76 L170.3 198.07 L171.3 198.36 L172.3 198.65 L173.3 198.94 L174.3 199.21 L175.3 199.48 L176.3 199.75 L177.3 200.01 L178.3 200.26 L179.3 200.51 L180.3 200.76 L181.3 201.01 L182.3 201.25 L183.3 201.48 L184.3 201.72 L185.3 201.95 L186.3 202.17 L187.3 202.40 L188.3 202.63 L189.3 202.85 L190.3 203.07 L191.3 203.29 L192.3 203.51 L193.3 203.73 L194.3 203.94 L195.3 204.16 L196.3 204.38 L197.3 204.60 L198.3 204.81 L199.3 205.03 L200.3 205.25 L201.3 205.48 L202.3 205.70 L203.3 205.92 L204.3 206.14 L205.3 206.37 L206.3 206.59 L207.3 206.81 L208.3 207.04 L209.3 207.26 L210.3 207.48 L211.3 207.70 L212.3 207.92 L213.3 208.14 L214.3 208.36 L215.3 208.58 L216.3 208.79 L217.3 209.00 L218.3 209.21 L219.3 209.42 L220.3 209.63 L221.3 209.83 L222.3 210.04 L223.3 210.24 L224.3 210.43 L225.3 210.62 L226.3 210.81 L227.3 211.00 L228.3 211.18 L229.3 211.36 L230.3 211.54 L231.3 211.71 L232.3 211.87 L233.3 212.04 L234.3 212.19 L235.3 212.35 L236.3 212.49 L237.3 212.64 L238.3 212.77 L239.3 212.90 L240.3 213.03 L241.3 213.15 L242.3 213.27 L243.3 213.37 L244.3 213.48 L245.3 213.57 L246.3 213.66 L247.3 213.74 L248.3 213.82 L249.3 213.89 L250.3 213.95 L251.3 214.01 L252.3 214.06 L253.3 214.11 L254.3 214.16 L255.3 214.21 L256.3 214.25 L257.3 214.30 L258.3 214.36 L259.3 214.41 L260.3 214.47 L261.3 214.54 L262.3 214.61 L263.3 214.69 L264.3 214.78 L265.3 214.88 L266.3 214.99 L267.3 215.12 L268.3 215.25 L269.3 215.41 L270.3 215.57 L271.3 215.75 L272.3 215.94 L273.3 216.13 L274.3 216.33 L275.3 216.54 L276.3 216.74 L277.3 216.94 L278.3 217.14 L279.3 217.33 L280.3 217.51 L281.3 217.69 L282.3 217.84 L283.3 217.99 L284.3 218.12 L285.3 218.25 L286.3 218.36 L287.3 218.47 L288.3 218.56 L289.3 218.65 L290.3 218.73 L291.3 218.80 L292.3 218.87 L293.3 218.93 L294.3 218.99 L295.3 219.05 L296.3 219.10 L297.3 219.14 L298.3 219.19 L299.3 219.23 L300.3 219.28 L301.3 219.32 L302.3 219.36 L303.3 219.41 L304.3 219.45 L305.3 219.50 L306.3 219.55 L307.3 219.60 L308.3 219.64 L309.3 219.69 L310.3 219.74 L311.3 219.79 L312.3 219.84 L313.3 219.90 L314.3 219.95 L315.3 220.00 L316.3 220.05 L317.3 220.11 L318.3 220.16 L319.3 220.22 L320.3 220.27 L321.3 220.33 L322.3 220.39 L323.3 220.44 L324.3 220.50 L325.3 220.56 L326.3 220.61 L327.3 220.67 L328.3 220.73 L329.3 220.79 L330.3 220.85 L331.3 220.91 L332.3 220.97 L333.3 221.03 L334.3 221.09 L335.3 221.15 L336.3 221.21 L337.3 221.27 L338.3 221.33 L339.3 221.39 L340.3 221.45 L341.3 221.51 L342.3 221.57 L343.3 221.63 L344.3 221.69 L345.3 221.75 L346.3 221.81 L347.3 221.87 L348.3 221.94 L349.3 222.00 L350.3 222.06 L351.3 222.12 L352.3 222.18 L353.3 222.24 L354.3 222.30 L355.3 222.35 L356.3 222.41 L357.3 222.47 L358.3 222.53 L359.3 222.59 L360.3 222.65 L361.3 222.71 L362.3 222.76 L363.3 222.82 L364.3 222.88 L365.3 222.93 L366.3 222.99 L367.3 223.04 L368.3 223.10 L369.3 223.15 L370.3 223.20 L371.3 223.26 L372.3 223.31 L373.3 223.36 L374.3 223.41 L375.3 223.46 L376.3 223.51 L377.3 223.56 L378.3 223.61 L379.3 223.66 L380.3 223.71 L381.3 223.75 L382.3 223.80 L383.3 223.85 L384.3 223.89 L385.3 223.93 L386.3 223.98 L387.3 224.02 L388.3 224.06 L389.3 224.10 L390.3 224.14 L391.3 224.18 L392.3 224.21 L393.3 224.25 L394.3 224.28 L395.3 224.32 L396.3 224.35 L397.3 224.38 L398.3 224.41 L399.3 224.44 L400.3 224.47 L401.3 224.50 L402.3 224.53 L403.3 224.55 L404.3 224.58 L405.3 224.60 L406.3 224.62 L406.7 224.63" stroke="#ff34ff" stroke-dasharray="5.5 3.71"/>
<path d="M60.3 55.63 L61.3 54.66 L62.3 53.72 L63.3 52.80 L64.3 51.91 L65.3 51.06 L66.3 50.24 L67.3 49.47 L68.3 48.74 L69.3 48.06 L70.3 47.44 L71.3 46.87 L72.3 46.37 L73.3 45.94 L74.3 45.57 L75.3 45.28 L76.3 45.07 L77.3 44.94 L78.3 44.90 L79.3 44.94 L80.3 45.09 L81.3 45.33 L82.3 45.67 L83.3 46.11 L84.3 46.64 L85.3 47.26 L86.3 47.96 L87.3 48.74 L88.3 49.60 L89.3 50.53 L90.3 51.53 L91.3 52.60 L92.3 53.74 L93.3 54.99 L94.3 56.38 L95.3 57.95 L96.3 59.67 L97.3 61.46 L98.3 63.26 L99.3 64.99 L100.3 66.60 L101.3 68.14 L102.3 69.64 L103.3 71.17 L104.3 72.76 L105.3 74.47 L106.3 76.28 L107.3 78.19 L108.3 80.19 L109.3 82.26 L110.3 84.40 L111.3 86.59 L112.3 88.82 L113.3 91.09 L114.3 93.37 L115.3 95.64 L116.3 97.90 L117.3 100.14 L118.3 102.38 L119.3 104.61 L120.3 106.85 L121.3 109.08 L122.3 111.32 L123.3 113.56 L124.3 115.82 L125.3 118.09 L126.3 120.38 L127.3 122.68 L128.3 124.99 L129.3 127.28 L130.3 129.52 L131.3 131.68 L132.3 133.75 L133.3 135.71 L134.3 137.63 L135.3 139.58 L136.3 141.63 L137.3 143.77 L138.3 145.94 L139.3 148.12 L140.3 150.27 L141.3 152.34 L142.3 154.32 L143.3 156.21 L144.3 158.02 L145.3 159.74 L146.3 161.39 L147.3 162.96 L148.3 164.45 L149.3 165.88 L150.3 167.25 L151.3 168.55 L152.3 169.79 L153.3 170.98 L154.3 172.11 L155.3 173.20 L156.3 174.24 L157.3 175.24 L158.3 176.20 L159.3 177.12 L160.3 178.02 L161.3 178.88 L162.3 179.72 L163.3 180.54 L164.3 181.33 L165.3 182.10 L166.3 182.84 L167.3 183.56 L168.3 184.26 L169.3 184.93 L170.3 185.58 L171.3 186.21 L172.3 186.81 L173.3 187.39 L174.3 187.94 L175.3 188.47 L176.3 188.98 L177.3 189.46 L178.3 189.92 L179.3 190.36 L180.3 190.77 L181.3 191.16 L182.3 191.52 L183.3 191.86 L184.3 192.18 L185.3 192.47 L186.3 192.74 L187.3 192.99 L188.3 193.21 L189.3 193.43 L190.3 193.63 L191.3 193.84 L192.3 194.05 L193.3 194.28 L194.3 194.52 L195.3 194.78 L196.3 195.08 L197.3 195.42 L198.3 195.80 L199.3 196.23 L200.3 196.72 L201.3 197.22 L202.3 197.73 L203.3 198.21 L204.3 198.66 L205.3 199.08 L206.3 199.47 L207.3 199.84 L208.3 200.18 L209.3 200.50 L210.3 200.79 L211.3 201.08 L212.3 201.34 L213.3 201.59 L214.3 201.83 L215.3 202.06 L216.3 202.28 L217.3 202.50 L218.3 202.71 L219.3 202.92 L220.3 203.13 L221.3 203.33 L222.3 203.52 L223.3 203.72 L224.3 203.90 L225.3 204.09 L226.3 204.27 L227.3 204.45 L228.3 204.63 L229.3 204.80 L230.3 204.97 L231.3 205.13 L232.3 205.30 L233.3 205.46 L234.3 205.61 L235.3 205.77 L236.3 205.92 L237.3 206.07 L238.3 206.22 L239.3 206.36 L240.3 206.50 L241.3 206.64 L242.3 206.78 L243.3 206.91 L244.3 207.05 L245.3 207.18 L246.3 207.31 L247.3 207.43 L248.3 207.56 L249.3 207.68 L250.3 207.81 L251.3 207.93 L252.3 208.05 L253.3 208.17 L254.3 208.28 L255.3 208.40 L256.3 208.51 L257.3 208.63 L258.3 208.74 L259.3 208.85 L260.3 208.96 L261.3 209.07 L262.3 209.18 L263.3 209.29 L264.3 209.40 L265.3 209.51 L266.3 209.62 L267.3 209.73 L268.3 209.84 L269.3 209.95 L270.3 210.05 L271.3 210.16 L272.3 210.27 L273.3 210.38 L274.3 210.49 L275.3 210.59 L276.3 210.70 L277.3 210.81 L278.3 210.92 L279.3 211.03 L280.3 211.14 L281.3 211.24 L282.3 211.35 L283.3 211.46 L284.3 211.57 L285.3 211.67 L286.3 211.78 L287.3 211.89 L288.3 211.99 L289.3 212.10 L290.3 212.21 L291.3 212.31 L292.3 212.42 L293.3 212.52 L294.3 212.63 L295.3 212.73 L296.3 212.84 L297.3 212.94 L298.3 213.05 L299.3 213.15 L300.3 213.25 L301.3 213.36 L302.3 213.46 L303.3 213.56 L304.3 213.66 L305.3 213.76 L306.3 213.87 L307.3 213.97 L308.3 214.07 L309.3 214.17 L310.3 214.26 L311.3 214.36 L312.3 214.46 L313.3 214.56 L314.3 214.66 L315.3 214.75 L316.3 214.85 L317.3 214.94 L318.3 215.04 L319.3 215.13 L320.3 215.22 L321.3 215.32 L322.3 215.41 L323.3 215.50 L324.3 215.59 L325.3 215.68 L326.3 215.77 L327.3 215.86 L328.3 215.95 L329.3 216.03 L330.3 216.12 L331.3 216.21 L332.3 216.29 L333.3 216.38 L334.3 216.46 L335.3 216.55 L336.3 216.63 L337.3 216.71 L338.3 216.79 L339.3 216.87 L340.3 216.95 L341.3 217.03 L342.3 217.11 L343.3 217.19 L344.3 217.27 L345.3 217.35 L346.3 217.42 L347.3 217.50 L348.3 217.57 L349.3 217.65 L350.3 217.72 L351.3 217.80 L352.3 217.87 L353.3 217.94 L354.3 218.01 L355.3 218.09 L356.3 218.16 L357.3 218.23 L358.3 218.30 L359.3 218.37 L360.3 218.43 L361.3 218.50 L362.3 218.57 L363.3 218.64 L364.3 218.70 L365.3 218.77 L366.3 218.83 L367.3 218.90 L368.3 218.96 L369.3 219.02 L370.3 219.09 L371.3 219.15 L372.3 219.21 L373.3 219.27 L374.3 219.33 L375.3 219.39 L376.3 219.45 L377.3 219.51 L378.3 219.57 L379.3 219.63 L380.3 219.69 L381.3 219.74 L382.3 219.80 L383.3 219.86 L384.3 219.91 L385.3 219.97 L386.3 220.02 L387.3 220.07 L388.3 220.13 L389.3 220.18 L390.3 220.23 L391.3 220.29 L392.3 220.34 L393.3 220.39 L394.3 220.44 L395.3 220.49 L396.3 220.54 L397.3 220.59 L398.3 220.64 L399.3 220.68 L400.3 220.73 L401.3 220.78 L402.3 220.83 L403.3 220.87 L404.3 220.92 L405.3 220.96 L406.3 221.01 L406.7 221.03" stroke="#30b530" stroke-dasharray="5.5 3.71"/>
<path d="M60.3 45.62 L61.3 44.79 L62.3 43.99 L63.3 43.21 L64.3 42.46 L65.3 41.73 L66.3 41.04 L67.3 40.37 L68.3 39.74 L69.3 39.14 L70.3 38.57 L71.3 38.04 L72.3 37.54 L73.3 37.08 L74.3 36.65 L75.3 36.27 L76.3 35.93 L77.3 35.62 L78.3 35.37 L79.3 35.15 L80.3 34.98 L81.3 34.86 L82.3 34.78 L83.3 34.75 L84.3 34.78 L85.3 34.85 L86.3 34.97 L87.3 35.15 L88.3 35.39 L89.3 35.67 L90.3 36.02 L91.3 36.42 L92.3 36.89 L93.3 37.41 L94.3 38.00 L95.3 38.64 L96.3 39.36 L97.3 40.13 L98.3 40.97 L99.3 41.87 L100.3 42.83 L101.3 43.84 L102.3 44.89 L103.3 45.98 L104.3 47.11 L105.3 48.27 L106.3 49.46 L107.3 50.68 L108.3 51.91 L109.3 53.15 L110.3 54.40 L111.3 55.66 L112.3 56.91 L113.3 58.16 L114.3 59.40 L115.3 60.64 L116.3 61.88 L117.3 63.14 L118.3 64.43 L119.3 65.76 L120.3 67.14 L121.3 68.59 L122.3 70.12 L123.3 71.74 L124.3 73.45 L125.3 75.24 L126.3 77.09 L127.3 79.01 L128.3 80.98 L129.3 82.97 L130.3 84.99 L131.3 87.02 L132.3 89.05 L133.3 91.07 L134.3 93.07 L135.3 95.05 L136.3 97.02 L137.3 98.97 L138.3 100.91 L139.3 102.84 L140.3 104.74 L141.3 106.64 L142.3 108.51 L143.3 110.38 L144.3 112.23 L145.3 114.06 L146.3 115.88 L147.3 117.68 L148.3 119.47 L149.3 121.25 L150.3 123.01 L151.3 124.75 L152.3 126.47 L153.3 128.16 L154.3 129.81 L155.3 131.43 L156.3 133.02 L157.3 134.60 L158.3 136.17 L159.3 137.73 L160.3 139.29 L161.3 140.85 L162.3 142.42 L163.3 143.98 L164.3 145.53 L165.3 147.08 L166.3 148.61 L167.3 150.12 L168.3 151.62 L169.3 153.09 L170.3 154.54 L171.3 155.96 L172.3 157.36 L173.3 158.71 L174.3 160.03 L175.3 161.31 L176.3 162.54 L177.3 163.73 L178.3 164.87 L179.3 165.95 L180.3 166.98 L181.3 167.95 L182.3 168.87 L183.3 169.74 L184.3 170.58 L185.3 171.38 L186.3 172.16 L187.3 172.92 L188.3 173.67 L189.3 174.42 L190.3 175.18 L191.3 175.94 L192.3 176.72 L193.3 177.51 L194.3 178.30 L195.3 179.10 L196.3 179.89 L197.3 180.68 L198.3 181.46 L199.3 182.23 L200.3 182.98 L201.3 183.71 L202.3 184.41 L203.3 185.09 L204.3 185.74 L205.3 186.36 L206.3 186.95 L207.3 187.52 L208.3 188.07 L209.3 188.59 L210.3 189.09 L211.3 189.56 L212.3 190.02 L213.3 190.45 L214.3 190.87 L215.3 191.26 L216.3 191.64 L217.3 192.01 L218.3 192.35 L219.3 192.68 L220.3 193.00 L221.3 193.31 L222.3 193.60 L223.3 193.88 L224.3 194.15 L225.3 194.41 L226.3 194.66 L227.3 194.90 L228.3 195.14 L229.3 195.37 L230.3 195.59 L231.3 195.82 L232.3 196.03 L233.3 196.25 L234.3 196.46 L235.3 196.67 L236.3 196.87 L237.3 197.07 L238.3 197.27 L239.3 197.47 L240.3 197.66 L241.3 197.85 L242.3 198.04 L243.3 198.23 L244.3 198.41 L245.3 198.59 L246.3 198.77 L247.3 198.95 L248.3 199.12 L249.3 199.29 L250.3 199.46 L251.3 199.63 L252.3 199.79 L253.3 199.96 L254.3 200.12 L255.3 200.28 L256.3 200.43 L257.3 200.59 L258.3 200.74 L259.3 200.90 L260.3 201.05 L261.3 201.20 L262.3 201.34 L263.3 201.49 L264.3 201.63 L265.3 201.78 L266.3 201.92 L267.3 202.06 L268.3 202.20 L269.3 202.34 L270.3 202.48 L271.3 202.61 L272.3 202.75 L273.3 202.88 L274.3 203.01 L275.3 203.15 L276.3 203.28 L277.3 203.41 L278.3 203.54 L279.3 203.67 L280.3 203.79 L281.3 203.92 L282.3 204.04 L283.3 204.17 L284.3 204.29 L285.3 204.41 L286.3 204.54 L287.3 204.66 L288.3 204.78 L289.3 204.89 L290.3 205.01 L291.3 205.13 L292.3 205.25 L293.3 205.36 L294.3 205.48 L295.3 205.59 L296.3 205.70 L297.3 205.81 L298.3 205.93 L299.3 206.04 L300.3 206.15 L301.3 206.25 L302.3 206.36 L303.3 206.47 L304.3 206.58 L305.3 206.68 L306.3 206.79 L307.3 206.89 L308.3 207.00 L309.3 207.10 L310.3 207.20 L311.3 207.31 L312.3 207.41 L313.3 207.51 L314.3 207.61 L315.3 207.71 L316.3 207.81 L317.3 207.91 L318.3 208.00 L319.3 208.10 L320.3 208.20 L321.3 208.29 L322.3 208.39 L323.3 208.48 L324.3 208.58 L325.3 208.67 L326.3 208.77 L327.3 208.86 L328.3 208.95 L329.3 209.04 L330.3 209.14 L331.3 209.23 L332.3 209.32 L333.3 209.41 L334.3 209.50 L335.3 209.59 L336.3 209.68 L337.3 209.77 L338.3 209.86 L339.3 209.94 L340.3 210.03 L341.3 210.12 L342.3 210.21 L343.3 210.29 L344.3 210.38 L345.3 210.47 L346.3 210.55 L347.3 210.64 L348.3 210.73 L349.3 210.81 L350.3 210.90 L351.3 210.98 L352.3 211.07 L353.3 211.15 L354.3 211.23 L355.3 211.32 L356.3 211.40 L357.3 211.49 L358.3 211.57 L359.3 211.65 L360.3 211.74 L361.3 211.82 L362.3 211.90 L363.3 211.99 L364.3 212.07 L365.3 212.15 L366.3 212.24 L367.3 212.32 L368.3 212.40 L369.3 212.48 L370.3 212.57 L371.3 212.65 L372.3 212.73 L373.3 212.81 L374.3 212.90 L375.3 212.98 L376.3 213.06 L377.3 213.15 L378.3 213.23 L379.3 213.31 L380.3 213.39 L381.3 213.48 L382.3 213.56 L383.3 213.64 L384.3 213.73 L385.3 213.81 L386.3 213.90 L387.3 213.98 L388.3 214.06 L389.3 214.15 L390.3 214.23 L391.3 214.32 L392.3 214.40 L393.3 214.49 L394.3 214.57 L395.3 214.66 L396.3 214.75 L397.3 214.83 L398.3 214.92 L399.3 215.01 L400.3 215.09 L401.3 215.18 L402.3 215.27 L403.3 215.36 L404.3 215.44 L405.3 215.53 L406.3 215.62 L406.7 215.66" stroke="#ff9326" stroke-dasharray="5.5 3.71"/>
<path d="M60.3 36.89 L61.3 36.34 L62.3 35.80 L63.3 35.27 L64.3 34.75 L65.3 34.24 L66.3 33.75 L67.3 33.27 L68.3 32.81 L69.3 32.36 L70.3 31.93 L71.3 31.51 L72.3 31.10 L73.3 30.72 L74.3 30.35 L75.3 29.99 L76.3 29.66 L77.3 29.34 L78.3 29.05 L79.3 28.77 L80.3 28.51 L81.3 28.27 L82.3 28.06 L83.3 27.86 L84.3 27.69 L85.3 27.54 L86.3 27.41 L87.3 27.30 L88.3 27.22 L89.3 27.17 L90.3 27.13 L91.3 27.13 L92.3 27.15 L93.3 27.19 L94.3 27.26 L95.3 27.36 L96.3 27.49 L97.3 27.64 L98.3 27.82 L99.3 28.04 L100.3 28.28 L101.3 28.55 L102.3 28.85 L103.3 29.18 L104.3 29.54 L105.3 29.93 L106.3 30.35 L107.3 30.81 L108.3 31.29 L109.3 31.80 L110.3 32.35 L111.3 32.92 L112.3 33.53 L113.3 34.17 L114.3 34.84 L115.3 35.54 L116.3 36.27 L117.3 37.04 L118.3 37.84 L119.3 38.67 L120.3 39.53 L121.3 40.43 L122.3 41.35 L123.3 42.32 L124.3 43.31 L125.3 44.34 L126.3 45.39 L127.3 46.48 L128.3 47.59 L129.3 48.73 L130.3 49.90 L131.3 51.08 L132.3 52.28 L133.3 53.51 L134.3 54.74 L135.3 55.99 L136.3 57.25 L137.3 58.53 L138.3 59.81 L139.3 61.10 L140.3 62.40 L141.3 63.70 L142.3 65.02 L143.3 66.34 L144.3 67.67 L145.3 69.00 L146.3 70.34 L147.3 71.69 L148.3 73.04 L149.3 74.40 L150.3 75.77 L151.3 77.14 L152.3 78.51 L153.3 79.89 L154.3 81.27 L155.3 82.66 L156.3 84.05 L157.3 85.44 L158.3 86.84 L159.3 88.24 L160.3 89.64 L161.3 91.04 L162.3 92.45 L163.3 93.85 L164.3 95.26 L165.3 96.67 L166.3 98.07 L167.3 99.48 L168.3 100.89 L169.3 102.30 L170.3 103.70 L171.3 105.11 L172.3 106.51 L173.3 107.91 L174.3 109.30 L175.3 110.69 L176.3 112.07 L177.3 113.44 L178.3 114.80 L179.3 116.15 L180.3 117.49 L181.3 118.81 L182.3 120.13 L183.3 121.43 L184.3 122.73 L185.3 124.04 L186.3 125.34 L187.3 126.66 L188.3 127.98 L189.3 129.32 L190.3 130.68 L191.3 132.05 L192.3 133.44 L193.3 134.83 L194.3 136.21 L195.3 137.59 L196.3 138.95 L197.3 140.28 L198.3 141.59 L199.3 142.86 L200.3 144.09 L201.3 145.29 L202.3 146.46 L203.3 147.59 L204.3 148.69 L205.3 149.76 L206.3 150.81 L207.3 151.82 L208.3 152.81 L209.3 153.78 L210.3 154.72 L211.3 155.63 L212.3 156.53 L213.3 157.40 L214.3 158.25 L215.3 159.09 L216.3 159.91 L217.3 160.71 L218.3 161.50 L219.3 162.27 L220.3 163.03 L221.3 163.78 L222.3 164.52 L223.3 165.25 L224.3 165.96 L225.3 166.67 L226.3 167.37 L227.3 168.05 L228.3 168.73 L229.3 169.40 L230.3 170.05 L231.3 170.70 L232.3 171.34 L233.3 171.96 L234.3 172.58 L235.3 173.19 L236.3 173.79 L237.3 174.38 L238.3 174.96 L239.3 175.53 L240.3 176.09 L241.3 176.64 L242.3 177.18 L243.3 177.71 L244.3 178.24 L245.3 178.75 L246.3 179.26 L247.3 179.76 L248.3 180.25 L249.3 180.73 L250.3 181.20 L251.3 181.66 L252.3 182.11 L253.3 182.56 L254.3 183.00 L255.3 183.43 L256.3 183.85 L257.3 184.26 L258.3 184.67 L259.3 185.06 L260.3 185.45 L261.3 185.83 L262.3 186.21 L263.3 186.57 L264.3 186.93 L265.3 187.28 L266.3 187.62 L267.3 187.96 L268.3 188.28 L269.3 188.60 L270.3 188.92 L271.3 189.22 L272.3 189.52 L273.3 189.81 L274.3 190.10 L275.3 190.38 L276.3 190.65 L277.3 190.91 L278.3 191.17 L279.3 191.43 L280.3 191.67 L281.3 191.91 L282.3 192.15 L283.3 192.38 L284.3 192.60 L285.3 192.82 L286.3 193.03 L287.3 193.24 L288.3 193.44 L289.3 193.64 L290.3 193.83 L291.3 194.02 L292.3 194.20 L293.3 194.38 L294.3 194.56 L295.3 194.72 L296.3 194.89 L297.3 195.05 L298.3 195.21 L299.3 195.36 L300.3 195.51 L301.3 195.66 L302.3 195.80 L303.3 195.94 L304.3 196.08 L305.3 196.21 L306.3 196.34 L307.3 196.47 L308.3 196.59 L309.3 196.71 L310.3 196.83 L311.3 196.95 L312.3 197.06 L313.3 197.17 L314.3 197.28 L315.3 197.39 L316.3 197.50 L317.3 197.60 L318.3 197.70 L319.3 197.80 L320.3 197.90 L321.3 198.00 L322.3 198.10 L323.3 198.20 L324.3 198.29 L325.3 198.39 L326.3 198.48 L327.3 198.58 L328.3 198.67 L329.3 198.76 L330.3 198.85 L331.3 198.95 L332.3 199.04 L333.3 199.13 L334.3 199.23 L335.3 199.32 L336.3 199.41 L337.3 199.51 L338.3 199.60 L339.3 199.70 L340.3 199.80 L341.3 199.90 L342.3 200.00 L343.3 200.10 L344.3 200.20 L345.3 200.30 L346.3 200.40 L347.3 200.51 L348.3 200.61 L349.3 200.72 L350.3 200.82 L351.3 200.93 L352.3 201.04 L353.3 201.15 L354.3 201.25 L355.3 201.36 L356.3 201.47 L357.3 201.58 L358.3 201.69 L359.3 201.81 L360.3 201.92 L361.3 202.03 L362.3 202.14 L363.3 202.25 L364.3 202.37 L365.3 202.48 L366.3 202.59 L367.3 202.70 L368.3 202.82 L369.3 202.93 L370.3 203.04 L371.3 203.15 L372.3 203.27 L373.3 203.38 L374.3 203.49 L375.3 203.60 L376.3 203.71 L377.3 203.82 L378.3 203.94 L379.3 204.05 L380.3 204.16 L381.3 204.27 L382.3 204.37 L383.3 204.48 L384.3 204.59 L385.3 204.70 L386.3 204.81 L387.3 204.91 L388.3 205.02 L389.3 205.12 L390.3 205.22 L391.3 205.33 L392.3 205.43 L393.3 205.53 L394.3 205.63 L395.3 205.73 L396.3 205.83 L397.3 205.92 L398.3 206.02 L399.3 206.11 L400.3 206.21 L401.3 206.30 L402.3 206.39 L403.3 206.48 L404.3 206.57 L405.3 206.65 L406.3 206.74 L406.7 206.77" stroke="#952895" stroke-dasharray="5.5 3.71"/>
</g>
<rect x="47.5" y="15.5" width="366.0" height="226.7" fill="none" stroke="#707070" stroke-width="0.85"/>
<path d="M54.90 242.2 v-4.2 M54.90 15.5 v4.2 M66.62 242.2 v-2.5 M66.62 15.5 v2.5 M78.33 242.2 v-2.5 M78.33 15.5 v2.5 M90.05 242.2 v-2.5 M90.05 15.5 v2.5 M101.76 242.2 v-2.5 M101.76 15.5 v2.5 M113.48 242.2 v-4.2 M113.48 15.5 v4.2 M125.20 242.2 v-2.5 M125.20 15.5 v2.5 M136.91 242.2 v-2.5 M136.91 15.5 v2.5 M148.63 242.2 v-2.5 M148.63 15.5 v2.5 M160.34 242.2 v-2.5 M160.34 15.5 v2.5 M172.06 242.2 v-4.2 M172.06 15.5 v4.2 M183.78 242.2 v-2.5 M183.78 15.5 v2.5 M195.49 242.2 v-2.5 M195.49 15.5 v2.5 M207.21 242.2 v-2.5 M207.21 15.5 v2.5 M218.92 242.2 v-2.5 M218.92 15.5 v2.5 M230.64 242.2 v-4.2 M230.64 15.5 v4.2 M242.36 242.2 v-2.5 M242.36 15.5 v2.5 M254.07 242.2 v-2.5 M254.07 15.5 v2.5 M265.79 242.2 v-2.5 M265.79 15.5 v2.5 M277.50 242.2 v-2.5 M277.50 15.5 v2.5 M289.22 242.2 v-4.2 M289.22 15.5 v4.2 M300.94 242.2 v-2.5 M300.94 15.5 v2.5 M312.65 242.2 v-2.5 M312.65 15.5 v2.5 M324.37 242.2 v-2.5 M324.37 15.5 v2.5 M336.08 242.2 v-2.5 M336.08 15.5 v2.5 M347.80 242.2 v-4.2 M347.80 15.5 v4.2 M359.52 242.2 v-2.5 M359.52 15.5 v2.5 M371.23 242.2 v-2.5 M371.23 15.5 v2.5 M382.95 242.2 v-2.5 M382.95 15.5 v2.5 M394.66 242.2 v-2.5 M394.66 15.5 v2.5 M406.38 242.2 v-4.2 M406.38 15.5 v4.2 M47.5 237.50 h4.2 M413.5 237.50 h-4.2 M47.5 226.60 h2.5 M413.5 226.60 h-2.5 M47.5 215.70 h2.5 M413.5 215.70 h-2.5 M47.5 204.80 h2.5 M413.5 204.80 h-2.5 M47.5 193.90 h2.5 M413.5 193.90 h-2.5 M47.5 183.00 h4.2 M413.5 183.00 h-4.2 M47.5 172.10 h2.5 M413.5 172.10 h-2.5 M47.5 161.20 h2.5 M413.5 161.20 h-2.5 M47.5 150.30 h2.5 M413.5 150.30 h-2.5 M47.5 139.40 h2.5 M413.5 139.40 h-2.5 M47.5 128.50 h4.2 M413.5 128.50 h-4.2 M47.5 117.60 h2.5 M413.5 117.60 h-2.5 M47.5 106.70 h2.5 M413.5 106.70 h-2.5 M47.5 95.80 h2.5 M413.5 95.80 h-2.5 M47.5 84.90 h2.5 M413.5 84.90 h-2.5 M47.5 74.00 h4.2 M413.5 74.00 h-4.2 M47.5 63.10 h2.5 M413.5 63.10 h-2.5 M47.5 52.20 h2.5 M413.5 52.20 h-2.5 M47.5 41.30 h2.5 M413.5 41.30 h-2.5 M47.5 30.40 h2.5 M413.5 30.40 h-2.5 M47.5 19.50 h4.2 M413.5 19.50 h-4.2" stroke="#666" stroke-width="0.9" fill="none"/>
<g font-size="10" fill="#151515"><text x="54.9" y="255.2" text-anchor="middle">0</text><text x="113.5" y="255.2" text-anchor="middle">10</text><text x="172.1" y="255.2" text-anchor="middle">20</text><text x="230.6" y="255.2" text-anchor="middle">30</text><text x="289.2" y="255.2" text-anchor="middle">40</text><text x="347.8" y="255.2" text-anchor="middle">50</text><text x="406.4" y="255.2" text-anchor="middle">60</text><text x="44" y="241.1" text-anchor="end">0.0</text><text x="44" y="186.6" text-anchor="end">0.1</text><text x="44" y="132.1" text-anchor="end">0.2</text><text x="44" y="77.6" text-anchor="end">0.3</text><text x="44" y="23.1" text-anchor="end">0.4</text></g>
<rect x="323" y="33" width="71" height="146" fill="#fff" stroke="#1c1c1c" stroke-width="1.4"/>
<line x1="328.2" x2="346" y1="47.5" y2="47.5" stroke="#3a3aff" stroke-width="1.15"/><g transform="translate(353.1 52.1)" fill="none" stroke="#1a1a1a" stroke-linecap="round" stroke-linejoin="round"><path d="M0.1,-5.2 C0.6,-6.3 1.2,-6.9 1.9,-6.9 C2.7,-6.9 2.9,-6.3 2.7,-5.5 L1.2,-0.1" stroke-width="1.1"/><path d="M2.4,-4.4 C3.3,-5.9 4.4,-6.9 5.5,-6.9 C6.4,-6.9 6.6,-6.2 6.3,-5.1 L5.2,-1.4 C5.0,-0.5 5.2,-0.05 5.8,-0.05 C6.6,-0.05 7.3,-0.8 7.8,-2.1" stroke-width="0.85"/></g><path d="M364.8 46.5 h9.6 M364.8 49.8 h9.6" stroke="#111" stroke-width="0.9" fill="none"/><text x="378.6" y="51.9" style="font-family:'Liberation Serif',serif" font-size="13.6" fill="#111">1</text><line x1="328.2" x2="346" y1="76.2" y2="76.2" stroke="#ff34ff" stroke-width="1.15"/><g transform="translate(353.1 80.8)" fill="none" stroke="#1a1a1a" stroke-linecap="round" stroke-linejoin="round"><path d="M0.1,-5.2 C0.6,-6.3 1.2,-6.9 1.9,-6.9 C2.7,-6.9 2.9,-6.3 2.7,-5.5 L1.2,-0.1" stroke-width="1.1"/><path d="M2.4,-4.4 C3.3,-5.9 4.4,-6.9 5.5,-6.9 C6.4,-6.9 6.6,-6.2 6.3,-5.1 L5.2,-1.4 C5.0,-0.5 5.2,-0.05 5.8,-0.05 C6.6,-0.05 7.3,-0.8 7.8,-2.1" stroke-width="0.85"/></g><path d="M364.8 75.2 h9.6 M364.8 78.4 h9.6" stroke="#111" stroke-width="0.9" fill="none"/><text x="378.6" y="80.6" style="font-family:'Liberation Serif',serif" font-size="13.6" fill="#111">2</text><line x1="328.2" x2="346" y1="104.5" y2="104.5" stroke="#30b530" stroke-width="1.15"/><g transform="translate(353.1 109.0)" fill="none" stroke="#1a1a1a" stroke-linecap="round" stroke-linejoin="round"><path d="M0.1,-5.2 C0.6,-6.3 1.2,-6.9 1.9,-6.9 C2.7,-6.9 2.9,-6.3 2.7,-5.5 L1.2,-0.1" stroke-width="1.1"/><path d="M2.4,-4.4 C3.3,-5.9 4.4,-6.9 5.5,-6.9 C6.4,-6.9 6.6,-6.2 6.3,-5.1 L5.2,-1.4 C5.0,-0.5 5.2,-0.05 5.8,-0.05 C6.6,-0.05 7.3,-0.8 7.8,-2.1" stroke-width="0.85"/></g><path d="M364.8 103.5 h9.6 M364.8 106.7 h9.6" stroke="#111" stroke-width="0.9" fill="none"/><text x="378.6" y="108.9" style="font-family:'Liberation Serif',serif" font-size="13.6" fill="#111">3</text><line x1="328.2" x2="346" y1="133.0" y2="133.0" stroke="#ff9326" stroke-width="1.15"/><g transform="translate(353.1 137.6)" fill="none" stroke="#1a1a1a" stroke-linecap="round" stroke-linejoin="round"><path d="M0.1,-5.2 C0.6,-6.3 1.2,-6.9 1.9,-6.9 C2.7,-6.9 2.9,-6.3 2.7,-5.5 L1.2,-0.1" stroke-width="1.1"/><path d="M2.4,-4.4 C3.3,-5.9 4.4,-6.9 5.5,-6.9 C6.4,-6.9 6.6,-6.2 6.3,-5.1 L5.2,-1.4 C5.0,-0.5 5.2,-0.05 5.8,-0.05 C6.6,-0.05 7.3,-0.8 7.8,-2.1" stroke-width="0.85"/></g><path d="M364.8 132.0 h9.6 M364.8 135.2 h9.6" stroke="#111" stroke-width="0.9" fill="none"/><text x="378.6" y="137.4" style="font-family:'Liberation Serif',serif" font-size="13.6" fill="#111">4</text><line x1="328.2" x2="346" y1="161.4" y2="161.4" stroke="#952895" stroke-width="1.15"/><g transform="translate(353.1 166.0)" fill="none" stroke="#1a1a1a" stroke-linecap="round" stroke-linejoin="round"><path d="M0.1,-5.2 C0.6,-6.3 1.2,-6.9 1.9,-6.9 C2.7,-6.9 2.9,-6.3 2.7,-5.5 L1.2,-0.1" stroke-width="1.1"/><path d="M2.4,-4.4 C3.3,-5.9 4.4,-6.9 5.5,-6.9 C6.4,-6.9 6.6,-6.2 6.3,-5.1 L5.2,-1.4 C5.0,-0.5 5.2,-0.05 5.8,-0.05 C6.6,-0.05 7.3,-0.8 7.8,-2.1" stroke-width="0.85"/></g><path d="M364.8 160.4 h9.6 M364.8 163.6 h9.6" stroke="#111" stroke-width="0.9" fill="none"/><text x="378.6" y="165.8" style="font-family:'Liberation Serif',serif" font-size="13.6" fill="#111">5</text>
<g style="font-family:'Liberation Serif',serif" font-size="16" fill="#262626">
<text transform="translate(14.5 255.6) rotate(-90)" textLength="103.6" lengthAdjust="spacingAndGlyphs" style="font-family:'Liberation Serif',serif">Time-Averaged</text>
<text transform="translate(14.5 145.7) rotate(-90)" textLength="77.2" lengthAdjust="spacingAndGlyphs" style="font-family:'Liberation Serif',serif">Trace-Norm</text>
<text transform="translate(14.5 61.7) rotate(-90)" textLength="61" lengthAdjust="spacingAndGlyphs" style="font-family:'Liberation Serif',serif">Distance</text>
</g>
<g fill="none" stroke="#1a1a1a" stroke-linecap="round" stroke-linejoin="round">
<path d="M224.1,272.7 H229.2" stroke-width="0.8"/>
<path d="M227.8,270 L225.8,278 C225.5,279.3 225.9,280.1 226.7,280.1 C227.6,280.1 228.4,279.2 228.9,278" stroke-width="1.05"/>
<path d="M235.7,275.3 C235.6,274.8 235.2,274.5 234.8,274.5 C234.2,274.5 233.8,275 233.6,276 L232.3,282.8 C232.1,283.9 231.6,284.6 231,284.6 C230.7,284.6 230.4,284.4 230.3,284.1" stroke-width="0.85"/>
<path d="M231.8,277.2 H235.1" stroke-width="0.75"/>
</g>
</g>
</svg>
</body></html>
